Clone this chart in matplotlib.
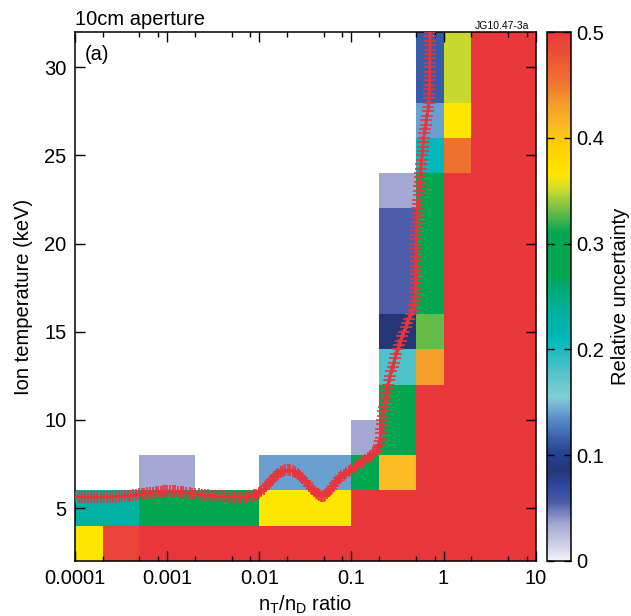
import numpy as np
import matplotlib
matplotlib.use("Agg")
import matplotlib.pyplot as plt
from matplotlib.colors import LinearSegmentedColormap
from matplotlib.ticker import FixedLocator, NullFormatter

plt.rcParams['font.family'] = ['Liberation Sans', 'DejaVu Sans']
plt.rcParams['mathtext.fontset'] = 'custom'
plt.rcParams['mathtext.rm'] = 'Liberation Sans'
plt.rcParams['mathtext.it'] = 'Liberation Sans:italic'

# ---------------- data ----------------
x_edges = [1e-4, 2e-4, 5e-4, 1e-3, 2e-3, 5e-3, 1e-2, 2e-2, 5e-2, 0.1, 0.2, 0.5, 1, 2, 5, 10]
y_edges = [2, 4, 6, 8, 10, 12, 14, 16, 18, 20, 22, 24, 26, 28, 30, 32]
n = np.nan
R = 0.5
uncertainty = [
    # rows from 2-4 keV up to 30-32 keV; columns follow x_edges bins
    [0.365, 0.49, R, R, R, R, R, R, R, R, R, R, R, R, R],
    [0.235, 0.235, 0.29, 0.29, 0.29, 0.29, 0.365, 0.365, 0.365, R, R, R, R, R, R],
    [n, n, 0.035, 0.035, n, n, 0.14, 0.14, 0.14, 0.29, 0.41, R, R, R, R],
    [n, n, n, n, n, n, n, n, n, 0.035, 0.29, R, R, R, R],
    [n, n, n, n, n, n, n, n, n, n, 0.29, R, R, R, R],
    [n, n, n, n, n, n, n, n, n, n, 0.18, 0.43, R, R, R],
    [n, n, n, n, n, n, n, n, n, n, 0.085, 0.33, R, R, R],
    [n, n, n, n, n, n, n, n, n, n, 0.055, 0.29, R, R, R],
    [n, n, n, n, n, n, n, n, n, n, 0.055, 0.29, R, R, R],
    [n, n, n, n, n, n, n, n, n, n, 0.055, 0.29, R, R, R],
    [n, n, n, n, n, n, n, n, n, n, 0.035, 0.29, R, R, R],
    [n, n, n, n, n, n, n, n, n, n, n, 0.21, 0.455, R, R],
    [n, n, n, n, n, n, n, n, n, n, n, 0.14, 0.365, R, R],
    [n, n, n, n, n, n, n, n, n, n, n, 0.115, 0.35, R, R],
    [n, n, n, n, n, n, n, n, n, n, n, 0.115, 0.35, R, R],
]

curve_ratio = [1.0e-4, 1.1e-4, 1.2e-4, 1.3e-4, 1.4e-4, 1.5e-4, 1.6e-4, 1.75e-4, 1.9e-4, 2.05e-4,
               2.2e-4, 2.4e-4, 2.6e-4, 2.8e-4, 3.0e-4, 3.25e-4, 3.5e-4, 3.75e-4, 4.0e-4, 4.3e-4,
               4.6e-4, 5.0e-4, 5.3e-4, 5.65e-4, 6.0e-4, 6.5e-4, 7.0e-4, 7.5e-4, 8.0e-4, 8.5e-4,
               9.0e-4, 9.5e-4, 1.0e-3, 1.07e-3, 1.15e-3, 1.22e-3, 1.3e-3, 1.4e-3, 1.5e-3, 1.62e-3,
               1.75e-3, 1.87e-3, 2.0e-3, 2.2e-3, 2.4e-3, 2.6e-3, 2.8e-3, 3.05e-3, 3.3e-3, 3.6e-3,
               3.9e-3, 4.25e-3, 4.6e-3, 5.0e-3, 5.4e-3, 5.85e-3, 6.3e-3, 6.8e-3, 7.3e-3, 7.8e-3,
               8.3e-3, 8.8e-3, 9.3e-3, 9.9e-3, 0.0105, 0.0112, 0.0118, 0.0124, 0.013, 0.0137,
               0.0145, 0.0152, 0.016, 0.017, 0.018, 0.0192, 0.0205, 0.0217, 0.023, 0.0245,
               0.026, 0.0275, 0.029, 0.031, 0.033, 0.035, 0.037, 0.039, 0.041, 0.043,
               0.045, 0.0465, 0.048, 0.05, 0.052, 0.0545, 0.057, 0.06, 0.063, 0.0665,
               0.07, 0.074, 0.078, 0.083, 0.088, 0.094, 0.1, 0.107, 0.115, 0.122,
               0.13, 0.14, 0.15, 0.16, 0.17, 0.18, 0.19, 0.196, 0.2, 0.204,
               0.207, 0.21, 0.212, 0.214, 0.216, 0.219, 0.222, 0.226, 0.23, 0.235,
               0.24, 0.246, 0.252, 0.258, 0.265, 0.272, 0.28, 0.289, 0.298, 0.308,
               0.318, 0.33, 0.342, 0.356, 0.37, 0.387, 0.405, 0.425, 0.445, 0.462,
               0.475, 0.484, 0.49, 0.493, 0.495, 0.496, 0.497, 0.497, 0.497, 0.497,
               0.498, 0.499, 0.5, 0.501, 0.502, 0.504, 0.506, 0.508, 0.51, 0.512,
               0.515, 0.517, 0.52, 0.525, 0.53, 0.535, 0.54, 0.545, 0.55, 0.555,
               0.56, 0.566, 0.572, 0.578, 0.585, 0.591, 0.598, 0.604, 0.61, 0.62,
               0.63, 0.64, 0.65, 0.662, 0.675, 0.685, 0.695, 0.698, 0.7, 0.702,
               0.703, 0.704, 0.705, 0.706, 0.707, 0.708, 0.708, 0.709, 0.71, 0.71,
               0.711, 0.711, 0.712]
curve_ti = [5.62, 5.62, 5.62, 5.62, 5.62, 5.62, 5.62, 5.62, 5.62, 5.63,
            5.63, 5.64, 5.64, 5.65, 5.66, 5.67, 5.68, 5.7, 5.71, 5.73,
            5.75, 5.78, 5.8, 5.82, 5.84, 5.86, 5.88, 5.9, 5.92, 5.94,
            5.95, 5.96, 5.96, 5.96, 5.96, 5.95, 5.94, 5.92, 5.9, 5.88,
            5.85, 5.82, 5.8, 5.78, 5.76, 5.74, 5.72, 5.7, 5.69, 5.68,
            5.67, 5.66, 5.65, 5.64, 5.64, 5.63, 5.63, 5.63, 5.64, 5.66,
            5.68, 5.72, 5.76, 5.85, 5.95, 6.1, 6.25, 6.38, 6.5, 6.62,
            6.75, 6.85, 6.95, 7.03, 7.1, 7.15, 7.18, 7.16, 7.12, 7.04,
            6.95, 6.83, 6.7, 6.55, 6.4, 6.25, 6.1, 5.98, 5.88, 5.8,
            5.73, 5.7, 5.68, 5.7, 5.75, 5.85, 5.95, 6.1, 6.25, 6.4,
            6.55, 6.68, 6.8, 6.9, 7.0, 7.08, 7.15, 7.28, 7.4, 7.5,
            7.6, 7.72, 7.85, 7.95, 8.05, 8.18, 8.3, 8.45, 8.6, 8.8,
            9.0, 9.25, 9.5, 9.75, 10.0, 10.25, 10.5, 10.75, 11.0, 11.25,
            11.5, 11.75, 12.0, 12.25, 12.5, 12.75, 13.0, 13.25, 13.5, 13.75,
            14.0, 14.25, 14.5, 14.75, 15.0, 15.25, 15.5, 15.75, 16.0, 16.25,
            16.5, 16.75, 17.0, 17.25, 17.5, 17.75, 18.0, 18.25, 18.5, 18.75,
            19.0, 19.25, 19.5, 19.75, 20.0, 20.25, 20.5, 20.75, 21.0, 21.25,
            21.5, 21.75, 22.0, 22.25, 22.5, 22.75, 23.0, 23.25, 23.5, 23.75,
            24.0, 24.25, 24.5, 24.75, 25.0, 25.25, 25.5, 25.75, 26.0, 26.25,
            26.5, 26.75, 27.0, 27.25, 27.5, 27.75, 28.0, 28.25, 28.5, 28.75,
            29.0, 29.25, 29.5, 29.75, 30.0, 30.25, 30.5, 30.75, 31.0, 31.25,
            31.5, 31.75, 32.0]

x_tick_vals = [1e-4, 1e-3, 1e-2, 1e-1, 1, 10]
x_tick_labels = ['0.0001', '0.001', '0.01', '0.1', '1', '10']
y_tick_vals = [5, 10, 15, 20, 25, 30]
cbar_ticks = [0, 0.1, 0.2, 0.3, 0.4, 0.5]
cbar_labels = ['0', '0.1', '0.2', '0.3', '0.4', '0.5']

# ---------------- colormap ----------------
anchors = [
    (0.0, '#F4F4FA'), (0.02, '#C0C4E0'), (0.035, '#A3A8D3'), (0.055, '#4C5BA8'),
    (0.07, '#3048A0'), (0.085, '#253575'), (0.10, '#22408F'), (0.115, '#3A5CA8'),
    (0.13, '#4F82C0'), (0.14, '#6AA0CF'), (0.155, '#80CFD8'), (0.18, '#4FC1C8'),
    (0.21, '#00B8BA'), (0.235, '#00B0A0'), (0.26, '#00A870'), (0.27, '#00A650'),
    (0.31, '#00A650'), (0.33, '#66BB48'), (0.35, '#C8D830'), (0.365, '#FFE600'),
    (0.39, '#FFD200'), (0.41, '#FBBC23'), (0.43, '#F5A02A'), (0.455, '#F07030'),
    (0.48, '#EC5034'), (0.5, '#E8373A'),
]
cmap = LinearSegmentedColormap.from_list('unc', [(v / 0.5, c) for v, c in anchors], N=512)

# ---------------- figure ----------------
fig = plt.figure(figsize=(6.31, 6.16), dpi=100)
ax = fig.add_axes([75 / 631, 1 - 561 / 616, (535.7 - 75) / 631, (561 - 32) / 616])
cax = fig.add_axes([547 / 631, 1 - 561 / 616, (571 - 547) / 631, (561 - 32) / 616])

Z = np.ma.masked_invalid(np.array(uncertainty, dtype=float))
mesh = ax.pcolormesh(x_edges, y_edges, Z, cmap=cmap, vmin=0, vmax=0.5,
                     shading='flat', edgecolors='none', antialiased=False)

ax.plot(curve_ratio, curve_ti, color='#E8343C', lw=2.0, marker='+', ms=8, mew=1.3,
        alpha=0.9, zorder=3)

ax.set_xscale('log')
ax.set_xlim(1e-4, 10)
ax.set_ylim(2, 32)

ax.xaxis.set_major_locator(FixedLocator(x_tick_vals))
ax.set_xticklabels(x_tick_labels)
minor = [m * 10.0 ** e for e in range(-4, 1) for m in (2, 5, 8)]
ax.xaxis.set_minor_locator(FixedLocator(minor))
ax.xaxis.set_minor_formatter(NullFormatter())
ax.set_yticks(y_tick_vals)

ax.tick_params(axis='both', which='major', direction='in', length=7, width=1.0,
               top=True, right=True, labelsize=14.5, pad=6)
ax.tick_params(axis='x', which='minor', direction='in', length=3.5, width=1.0, top=True)
ax.tick_params(axis='y', which='minor', left=False, right=False)
for s in ax.spines.values():
    s.set_linewidth(1.1)

ax.set_xlabel('n$_\\mathrm{T}$/n$_\\mathrm{D}$ ratio', fontsize=14.5, labelpad=4)
ax.set_ylabel('Ion temperature (keV)', fontsize=14.5, labelpad=8)

ax.text(0.022, 0.975, '(a)', transform=ax.transAxes, fontsize=14.5, ha='left', va='top')
fig.text(75 / 631, 1 - 25 / 616, '10cm aperture', fontsize=14.5, ha='left', va='baseline')
fig.text(529 / 631, 1 - 29 / 616, 'JG10.47-3a', fontsize=7.5, ha='right', va='baseline')

cb = fig.colorbar(mesh, cax=cax)
cb.set_ticks(cbar_ticks)
cb.set_ticklabels(cbar_labels)
cb.ax.tick_params(direction='in', length=5, width=1.0, labelsize=14.5, left=True, right=True, pad=4)
cb.outline.set_linewidth(1.1)
fig.text(620 / 631, 1 - 296 / 616, 'Relative uncertainty', fontsize=14.5, rotation=90,
         ha='center', va='center')

fig.savefig('out.png', dpi=100)
